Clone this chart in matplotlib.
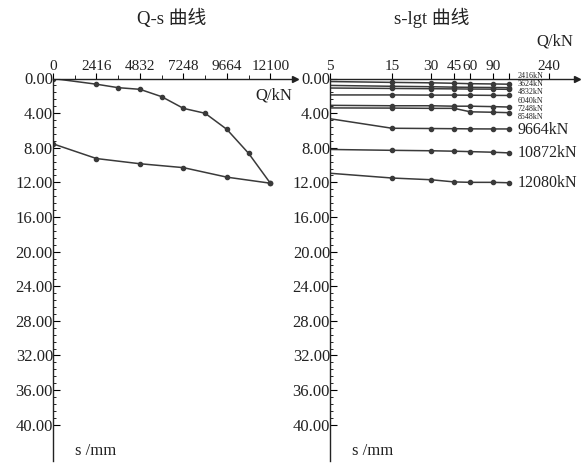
import matplotlib.pyplot as plt
import numpy as np
from matplotlib.ticker import FixedLocator, NullFormatter

plt.rcParams['font.family'] = ['Liberation Serif', 'Noto Sans CJK SC']

# Q-s curve (loading then unloading)
load_Q = [0, 2416, 3624, 4832, 6040, 7248, 8456, 9664, 10872, 12080]
load_s = [0.0, 0.66, 1.06, 1.25, 2.1, 3.45, 4.02, 5.88, 8.65, 12.1]
unload_Q = [12080, 9664, 7248, 4832, 2416, 0]
unload_s = [12.1, 11.4, 10.3, 9.85, 9.25, 7.55]

# s-lgt curves, one per load stage
t_min = [5, 15, 30, 45, 60, 90, 120]
stage_labels = ["2416kN", "3624kN", "4832kN", "6040kN", "7248kN", "8548kN",
                "9664kN", "10872kN", "12080kN"]
stage_s = [
    [0.35, 0.45, 0.5, 0.55, 0.6, 0.63, 0.66],
    [0.8, 0.9, 0.95, 1.0, 1.02, 1.04, 1.06],
    [1.1, 1.15, 1.18, 1.2, 1.22, 1.23, 1.25],
    [1.9, 1.9, 1.92, 1.92, 1.93, 1.95, 1.96],
    [3.1, 3.15, 3.15, 3.2, 3.2, 3.25, 3.3],
    [3.4, 3.42, 3.45, 3.45, 3.85, 3.9, 3.95],
    [4.65, 5.75, 5.78, 5.8, 5.82, 5.83, 5.83],
    [8.2, 8.3, 8.35, 8.4, 8.45, 8.52, 8.6],
    [10.95, 11.5, 11.7, 11.95, 12.0, 12.0, 12.05],
]

q_ticks = [0, 2416, 4832, 7248, 9664, 12080]
q_ticklabels = ["0", "2416", "4832", "7248", "9664", "12100"]
t_ticks = [5, 15, 30, 45, 60, 90, 120, 240]
t_ticklabels = ["5", "15", "30", "45", "60", "90", "", "240"]

lc = "#3a3a3a"
tc = "#222222"
fig = plt.figure(figsize=(5.82, 4.63), dpi=100)


def setup_axes(ax):
    ax.set_ylim(44.2, 0)
    ax.xaxis.tick_top()
    for sp in ["right", "bottom"]:
        ax.spines[sp].set_visible(False)
    for sp in ["left", "top"]:
        ax.spines[sp].set_color(tc)
        ax.spines[sp].set_linewidth(1.0)
    ax.yaxis.set_major_locator(FixedLocator(np.arange(0, 41, 4)))
    ax.yaxis.set_minor_locator(FixedLocator(np.arange(0, 40.1, 0.8)))
    ax.set_yticklabels(["%.2f" % v for v in np.arange(0, 41, 4)])
    ax.tick_params(axis="y", which="major", direction="in", length=5, labelsize=12,
                   pad=0, labelcolor=tc)
    ax.tick_params(axis="y", which="minor", direction="in", length=2.5)
    ax.tick_params(axis="x", which="major", direction="out", length=4, labelsize=11,
                   pad=0, labelcolor=tc)
    ax.tick_params(axis="x", which="minor", direction="out", length=3)
    ax.plot(1, 1, ">", color=tc, ms=5, transform=ax.transAxes, clip_on=False)
    ax.text(0.09, 0.005, "s /mm", transform=ax.transAxes, fontsize=12, va="bottom", color=tc)
    ax.set_facecolor("none")


# left: Q-s
ax1 = fig.add_axes([53 / 582, 2 / 463, 242 / 582, 382.5 / 463])
ax1.set_xlim(0, 13450)
setup_axes(ax1)
ax1.plot(load_Q, load_s, "-o", color=lc, lw=1.1, ms=3)
ax1.plot(unload_Q, unload_s, "-o", color=lc, lw=1.1, ms=3)
ax1.set_xticks(q_ticks)
ax1.set_xticklabels(q_ticklabels)
ax1.xaxis.set_minor_locator(FixedLocator(np.arange(1208, 12080, 2416)))
ax1.text(0.99, 0.955, "Q/kN", transform=ax1.transAxes, ha="right", va="center",
         fontsize=12, color=tc)
fig.text(172 / 582, 1 - 18 / 463, "Q-s 曲线", ha="center", va="center", fontsize=13.5, color=tc)

# right: s-lgt
ax2 = fig.add_axes([330 / 582, 2 / 463, 247 / 582, 382.5 / 463])
ax2.set_xscale("log")
ax2.set_xlim(5, 397)
setup_axes(ax2)
ax2.xaxis.set_major_locator(FixedLocator(t_ticks))
ax2.xaxis.set_minor_locator(FixedLocator([]))
ax2.xaxis.set_minor_formatter(NullFormatter())
ax2.set_xticklabels(t_ticklabels)

# the upper labels sit in a tight stack at the line ends
label_y = [-0.3, 0.65, 1.6, 2.55, 3.5, 4.45, 6.0, None, None]
label_fs = [5.8, 5.8, 5.8, 5.8, 5.8, 5.8, 11.5, 11.5, 11.5]
for s_vals, lab, ly, fs in zip(stage_s, stage_labels, label_y, label_fs):
    ax2.plot(t_min, s_vals, "-", color=lc, lw=1.1)
    ax2.plot(t_min[1:], s_vals[1:], "o", color=lc, ms=3)
    if ly is None:
        ly = s_vals[-1]
    ax2.annotate(lab, (t_min[-1], ly), xytext=(6, 0), textcoords="offset points",
                 fontsize=fs, va="center", ha="left", color=tc, annotation_clip=False)
fig.text(555 / 582, 1 - 42 / 463, "Q/kN", ha="center", va="center", fontsize=12, color=tc)
fig.text(432 / 582, 1 - 18 / 463, "s-lgt 曲线", ha="center", va="center", fontsize=13.5, color=tc)

fig.savefig("out.png", dpi=100)
